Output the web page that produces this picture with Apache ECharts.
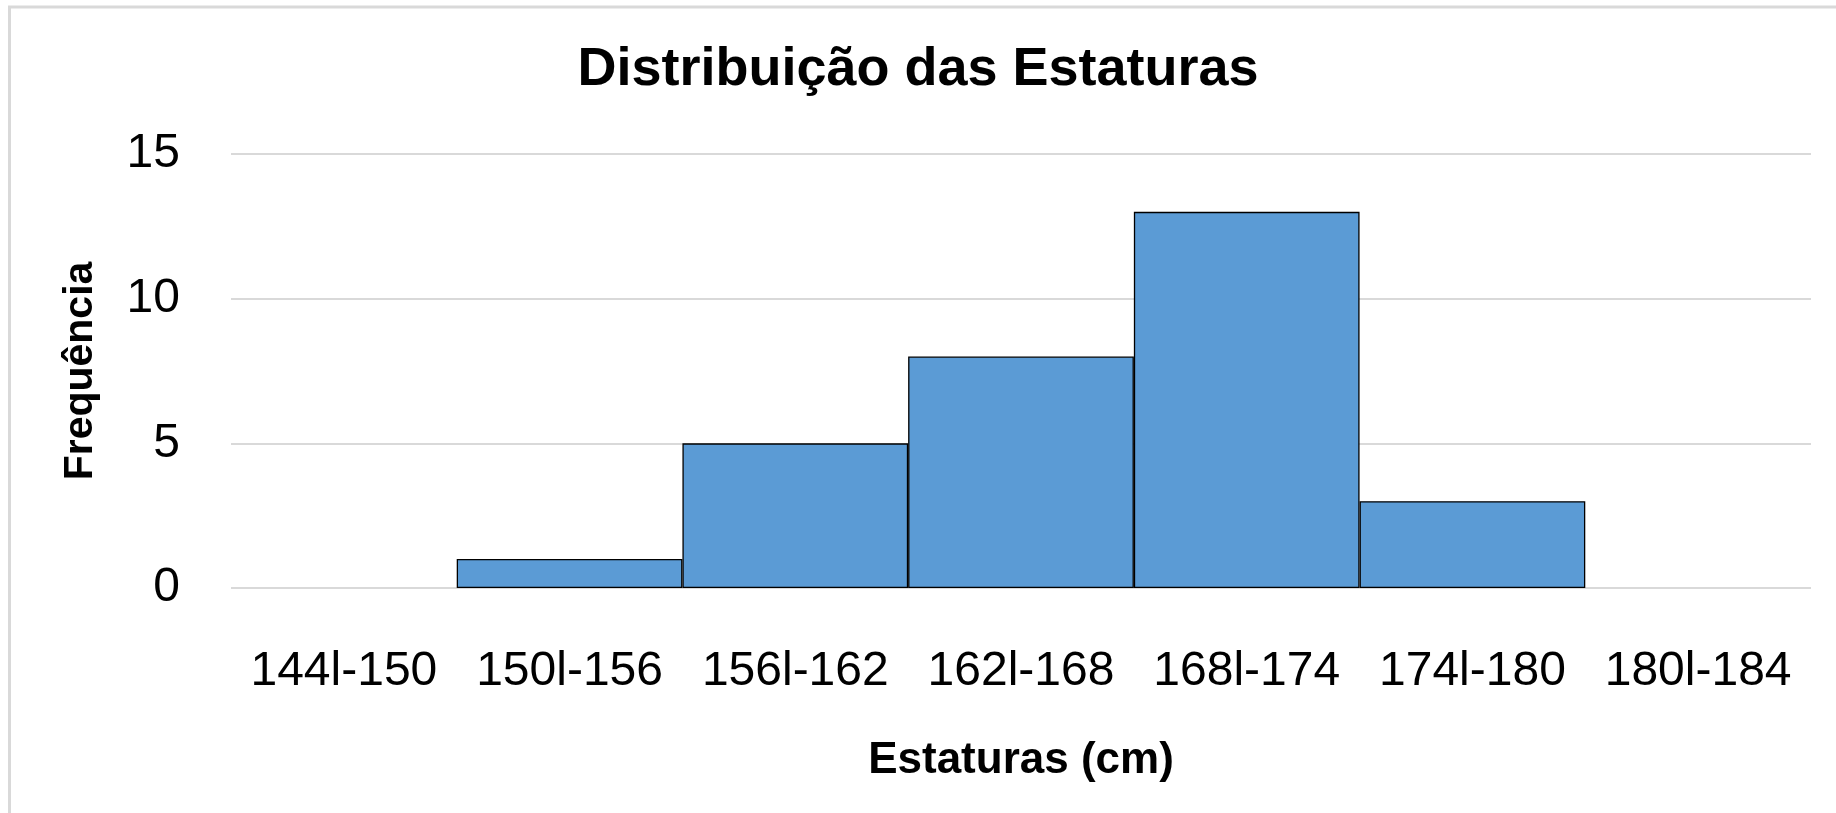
<!DOCTYPE html>
<html>
<head>
<meta charset="utf-8">
<script src="https://cdn.jsdelivr.net/npm/echarts@6/dist/echarts.min.js"></script>
<style>
html,body{margin:0;padding:0;background:#fff;}
#chart{width:1836px;height:813px;}
</style>
</head>
<body>
<div id="chart"></div>
<script>
const titleText = 'Distribuição das Estaturas';
const xAxisTitle = 'Estaturas (cm)';
const yAxisTitle = 'Frequência';
const categories = ['144l-150', '150l-156', '156l-162', '162l-168', '168l-174', '174l-180', '180l-184'];
const frequencies = [0, 1, 5, 8, 13, 3, 0];
const yTicks = [0, 5, 10, 15];

const FONT = '"Liberation Sans", Arial, sans-serif';
const chart = echarts.init(document.getElementById('chart'), null, {renderer: 'canvas'});

chart.setOption({
  backgroundColor: '#ffffff',
  animation: false,
  title: {
    text: titleText,
    left: 'center',
    top: 43,
    padding: 0,
    textStyle: {fontFamily: FONT, fontSize: 54, fontWeight: 'bold', color: '#000'}
  },
  graphic: [{
    type: 'rect',
    shape: {x: 9.5, y: 7, width: 2000, height: 2000},
    style: {fill: 'none', stroke: '#d9d9d9', lineWidth: 3},
    silent: true,
    z: -10
  }],
  grid: {left: 231, right: 25, top: 154, bottom: 225, containLabel: false, outerBoundsMode: 'none'},
  xAxis: {
    type: 'category',
    data: categories,
    name: xAxisTitle,
    nameLocation: 'middle',
    nameGap: 151,
    nameTextStyle: {fontFamily: FONT, fontSize: 44, fontWeight: 'bold', color: '#000'},
    axisLine: {show: false},
    axisTick: {show: false},
    axisLabel: {fontFamily: FONT, fontSize: 48, color: '#000', margin: 60, interval: 0}
  },
  yAxis: {
    type: 'value',
    min: yTicks[0],
    max: yTicks[yTicks.length - 1],
    interval: yTicks[1] - yTicks[0],
    name: yAxisTitle,
    nameLocation: 'middle',
    nameRotate: 90,
    nameGap: 130,
    nameTextStyle: {fontFamily: FONT, fontSize: 41, fontWeight: 'bold', color: '#000'},
    axisLine: {show: false},
    axisTick: {show: false},
    axisLabel: {fontFamily: FONT, fontSize: 48, color: '#000', margin: 51},
    splitLine: {lineStyle: {color: '#d9d9d9', width: 2}}
  },
  series: [{
    type: 'bar',
    data: frequencies.map(v => v === 0 ? {value: v, itemStyle: {borderWidth: 0}} : v),
    barCategoryGap: '0%',
    itemStyle: {color: '#5B9BD5', borderColor: '#000', borderWidth: 1.3}
  }]
});
</script>
</body>
</html>
